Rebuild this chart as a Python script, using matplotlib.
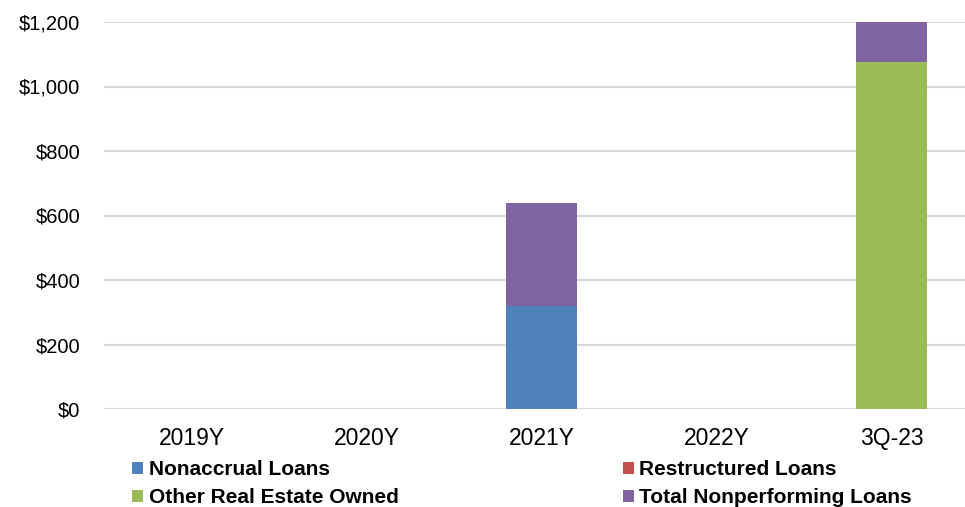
import matplotlib.pyplot as plt
import numpy as np
from matplotlib.ticker import FuncFormatter, MultipleLocator
from matplotlib.font_manager import FontProperties

categories = ["2019Y", "2020Y", "2021Y", "2022Y", "3Q-23"]
nonaccrual = [0, 0, 319, 0, 0]
restructured = [0, 0, 0, 0, 0]
oreo = [0, 0, 0, 0, 1076]
total_npl = [0, 0, 320, 0, 127]

series = [
    ("Nonaccrual Loans", nonaccrual, "#4F81BD"),
    ("Restructured Loans", restructured, "#C0504D"),
    ("Other Real Estate Owned", oreo, "#9BBB59"),
    ("Total Nonperforming Loans", total_npl, "#8064A2"),
]

plt.rcParams['font.family'] = ['Liberation Sans', 'DejaVu Sans']

fig = plt.figure(figsize=(9.65, 5.07), dpi=100)
ax = fig.add_axes([104 / 965, 98 / 507, 875 / 965, 387 / 507])

x = np.arange(len(categories))
bottom = np.zeros(len(categories))
handles = {}
for name, vals, color in series:
    vals = np.array(vals, dtype=float)
    b = ax.bar(x, vals, width=0.41, bottom=bottom, color=color, label=name,
               zorder=3, linewidth=0)
    handles[name] = b
    bottom += vals

ax.set_xlim(-0.5, 4.5)
ax.set_ylim(0, 1200)
ax.yaxis.set_major_locator(MultipleLocator(200))
ax.yaxis.set_major_formatter(FuncFormatter(lambda v, p: f"${v:,.0f}"))
ax.set_xticks(x)
ax.set_xticklabels(categories)
ax.grid(axis='y', color='#d9d9d9', linewidth=1.5, zorder=0)
ax.set_axisbelow(True)
for s in ax.spines.values():
    s.set_visible(False)
ax.tick_params(axis='both', length=0, colors='#000000')
ax.tick_params(axis='y', pad=17, labelsize=14.5)
ax.tick_params(axis='x', pad=13, labelsize=16.5)

# legend laid out in two columns, filled column-wise
order = ["Nonaccrual Loans", "Other Real Estate Owned",
         "Restructured Loans", "Total Nonperforming Loans"]
leg_font = FontProperties(family=['Liberation Sans', 'DejaVu Sans'],
                          weight='bold', size=15)
fig.legend([handles[n] for n in order], order, ncol=2, loc='upper left',
           bbox_to_anchor=(132 / 965, 1 - 460 / 507), frameon=False,
           prop=leg_font, handlelength=0.55, handleheight=0.5,
           handletextpad=0.25, columnspacing=10.75, labelspacing=0.45,
           borderpad=0, borderaxespad=0)

fig.savefig("out.png", dpi=100)
